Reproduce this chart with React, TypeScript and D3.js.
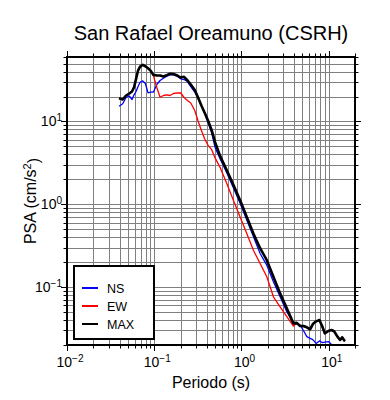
import React, { useEffect, useRef } from 'react';
import * as d3 from 'd3';

// periods (s)
const periods = [
  0.0395, 0.0435, 0.0475, 0.0518, 0.0556, 0.0587, 0.0619, 0.0652, 0.0688, 0.0738,
  0.0791, 0.0849, 0.0912, 0.0976, 0.107, 0.1166, 0.1272, 0.139, 0.1518, 0.1656,
  0.184, 0.2013, 0.2196, 0.2397, 0.2622, 0.2913, 0.3179, 0.3468, 0.3794, 0.414,
  0.454, 0.498, 0.568, 0.678, 0.807, 0.964, 1.15, 1.369, 1.634, 1.95,
  2.322, 2.771, 3.308, 3.937, 4.307, 4.7, 5.128, 5.61, 6.118, 6.573,
  7.17, 7.82, 8.4, 9.02, 10.0, 10.74, 11.53, 12.58, 13.51, 14.24, 15.3
];

const nsValues = [
  15.29, 16.34, 19.46, 20.29, 18.41, 20.97, 22.98, 26.41, 29.75, 30.93,
  28.7, 22.17, 22.54, 22.54, 27.91, 31.19, 33.24, 35.14, 36.53, 36.53,
  35.14, 32.69, 32.07, 30.34, 26.41, 22.67, 18.93, 15.59, 12.49, 9.72,
  7.37, 4.86, 3.55, 2.4, 1.58, 1.028, 0.647, 0.408, 0.2547, 0.1841,
  0.1158, 0.0764, 0.0504, 0.0365, 0.0358, 0.0348, 0.0299, 0.0252, 0.0241, 0.0232,
  0.0209, 0.0224, 0.0214, 0.0217, 0.022, 0.0203, null, null, null, null, null
];

const ewValues = [
  19.09, 18.41, 20.57, 21.75, 22.98, 25.9, 32.69, 41.17, 45.99, 48.2,
  46.38, 43.87, 40.82, 36.0, 25.68, 19.62, 20.57, 20.97, 20.57, 21.75,
  22.17, 22.05, 19.46, 17.91, 16.71, 13.57, 10.14, 7.79, 6.15, 5.14,
  4.6, 3.63, 2.79, 1.776, 1.117, 0.703, 0.4436, 0.2791, 0.193, 0.1331,
  0.0764, 0.0579, 0.0439, 0.0339, 0.0368, 0.0339, 0.0335, 0.0325, 0.0307, 0.0355,
  0.0383, 0.0395, 0.0335, 0.0275, 0.0295, 0.03, 0.029, 0.025, 0.0228, 0.0246, 0.022
];

const maxValues = [
  19.09, 18.41, 20.57, 21.75, 22.98, 25.9, 32.69, 41.17, 45.99, 48.2,
  46.38, 43.87, 40.82, 36.53, 35.83, 35.83, 34.85, 36.13, 37.66, 37.35,
  35.83, 33.89, 34.56, 31.44, 27.91, 23.96, 19.46, 15.59, 12.66, 10.2,
  7.9, 5.63, 3.84, 2.57, 1.72, 1.117, 0.703, 0.4436, 0.2951, 0.2115,
  0.1331, 0.084, 0.0554, 0.0365, 0.037, 0.0339, 0.0339, 0.0327, 0.0309, 0.0358,
  0.0386, 0.04, 0.0339, 0.0277, 0.0297, 0.0303, 0.0293, 0.0252, 0.023, 0.0248, 0.0222
];

const seriesNames = ['NS', 'EW', 'MAX'];
const seriesColors = ['#0000ff', '#ff0000', '#000000'];
const xTickExponents = [-2, -1, 0, 1];
const yTickExponents = [-1, 0, 1];

const title = 'San Rafael Oreamuno (CSRH)';
const xLabel = 'Periodo (s)';

function SpectraChart() {
  const graphRef = useRef<SVGSVGElement>(null);

  function drawChart() {
    const svg = d3.select(graphRef.current);
    svg.selectAll('*').remove();

    const width = 390;
    const height = 400;
    const margin = { left: 67, top: 57, right: 35, bottom: 55 };
    const innerW = width - margin.left - margin.right;
    const innerH = height - margin.top - margin.bottom;
    const font = 'Liberation Sans, Arial, Helvetica, sans-serif';

    const x = d3.scaleLog().domain([0.01, 20]).range([margin.left, margin.left + innerW]);
    const y = d3.scaleLog().domain([0.02, 60]).range([margin.top + innerH, margin.top]);

    svg.attr('width', width).attr('height', height);

    svg.append('defs').append('clipPath').attr('id', 'plot-clip')
      .append('rect')
        .attr('x', margin.left).attr('y', margin.top)
        .attr('width', innerW).attr('height', innerH);

    // all 1..9 ticks in the domain
    const logTicks = (dom: number[]) => {
      const out: { v: number, major: boolean }[] = [];
      for (let e = -3; e <= 2; e++) {
        for (let m = 1; m <= 9; m++) {
          const v = m * Math.pow(10, e);
          if (v >= dom[0] * 0.9999 && v <= dom[1] * 1.0001) out.push({ v, major: m === 1 });
        }
      }
      return out;
    };
    const xt = logTicks(x.domain());
    const yt = logTicks(y.domain());

    const grid = svg.append('g').attr('stroke', '#808080').attr('stroke-width', 1);
    xt.forEach(t => {
      const px = Math.round(x(t.v)) + 0.5;
      grid.append('line').attr('x1', px).attr('x2', px)
        .attr('y1', margin.top).attr('y2', margin.top + innerH);
    });
    yt.forEach(t => {
      const py = Math.round(y(t.v)) + 0.5;
      grid.append('line').attr('y1', py).attr('y2', py)
        .attr('x1', margin.left).attr('x2', margin.left + innerW);
    });

    // ticks on all four sides, pointing outward
    const ticks = svg.append('g').attr('stroke', '#000').attr('stroke-width', 1);
    xt.forEach(t => {
      const px = Math.round(x(t.v)) + 0.5;
      const len = t.major ? 6 : 3.5;
      ticks.append('line').attr('x1', px).attr('x2', px)
        .attr('y1', margin.top + innerH).attr('y2', margin.top + innerH + len);
      ticks.append('line').attr('x1', px).attr('x2', px)
        .attr('y1', margin.top).attr('y2', margin.top - len);
    });
    yt.forEach(t => {
      const py = Math.round(y(t.v)) + 0.5;
      const len = t.major ? 6 : 3.5;
      ticks.append('line').attr('y1', py).attr('y2', py)
        .attr('x1', margin.left).attr('x2', margin.left - len);
      ticks.append('line').attr('y1', py).attr('y2', py)
        .attr('x1', margin.left + innerW).attr('x2', margin.left + innerW + len);
    });

    // curves
    const line = d3.line<[number, number | null]>()
      .defined(d => d[1] !== null)
      .x(d => x(d[0]))
      .y(d => y(d[1] as number));

    const allSeries = [nsValues, ewValues, maxValues];
    const widths = [1.3, 1.3, 2.6];
    const plot = svg.append('g').attr('clip-path', 'url(#plot-clip)');
    allSeries.forEach((vals, i) => {
      plot.append('path')
        .datum(periods.map((p, j) => [p, vals[j]] as [number, number | null]))
        .attr('d', line)
        .attr('fill', 'none')
        .attr('stroke', seriesColors[i])
        .attr('stroke-width', widths[i])
        .attr('stroke-linejoin', 'round');
    });

    // frame
    svg.append('rect')
      .attr('x', margin.left).attr('y', margin.top)
      .attr('width', innerW).attr('height', innerH)
      .attr('fill', 'none').attr('stroke', '#000').attr('stroke-width', 2);

    // tick labels
    const addPow = (sel: any, exp: number) => {
      sel.append('tspan').text('10');
      sel.append('tspan')
        .attr('dy', '-0.55em')
        .attr('font-size', '10px')
        .text(exp < 0 ? '\u2212' + Math.abs(exp) : String(exp));
    };
    xTickExponents.forEach(e => {
      const t = svg.append('text')
        .attr('x', x(Math.pow(10, e)) + 3)
        .attr('y', margin.top + innerH + 22)
        .attr('text-anchor', 'middle')
        .attr('font-family', font)
        .attr('font-size', '14px');
      addPow(t, e);
    });
    yTickExponents.forEach(e => {
      const t = svg.append('text')
        .attr('x', margin.left - 5)
        .attr('y', y(Math.pow(10, e)) + 5)
        .attr('text-anchor', 'end')
        .attr('font-family', font)
        .attr('font-size', '14px');
      addPow(t, e);
    });

    // titles
    svg.append('text')
      .attr('x', margin.left + innerW / 2)
      .attr('y', 40)
      .attr('text-anchor', 'middle')
      .attr('font-family', font)
      .attr('font-size', '20px')
      .text(title);

    svg.append('text')
      .attr('x', margin.left + innerW / 2)
      .attr('y', 388)
      .attr('text-anchor', 'middle')
      .attr('font-family', font)
      .attr('font-size', '16px')
      .text(xLabel);

    const yl = svg.append('text')
      .attr('transform', `translate(36, ${margin.top + innerH / 2}) rotate(-90)`)
      .attr('text-anchor', 'middle')
      .attr('font-family', font)
      .attr('font-size', '16px');
    yl.append('tspan').text('PSA (cm/s');
    yl.append('tspan').attr('dy', '-0.5em').attr('font-size', '11px').text('2');
    yl.append('tspan').attr('dy', '0.5em').text(')');

    // legend
    const lg = svg.append('g');
    lg.append('rect')
      .attr('x', 74).attr('y', 266).attr('width', 80).attr('height', 73)
      .attr('fill', '#fff').attr('stroke', '#000').attr('stroke-width', 2);
    seriesNames.forEach((name, i) => {
      const ly = 288 + i * 18;
      lg.append('line')
        .attr('x1', 82).attr('x2', 98).attr('y1', ly).attr('y2', ly)
        .attr('stroke', seriesColors[i]).attr('stroke-width', 2);
      lg.append('text')
        .attr('x', 107).attr('y', ly + 4.5)
        .attr('font-family', font)
        .attr('font-size', '12.5px')
        .text(name);
    });
  }

  useEffect(() => {
    drawChart();
  }, []);

  return (
    <svg ref={graphRef} style={{ position: 'absolute', left: 0, top: 0, background: '#fff' }}></svg>
  );
}

export default function App() {
  return <SpectraChart />;
}
